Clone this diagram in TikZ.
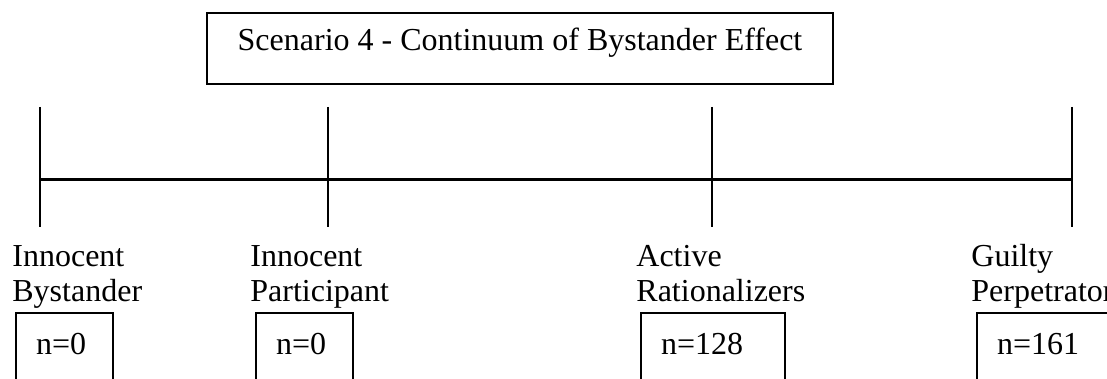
\documentclass[tikz,border=0pt]{standalone}
\usepackage{fontspec}
\setmainfont{Liberation Serif}
\usetikzlibrary{positioning}

\tikzset{
  titlebox/.style={draw, line width=1pt, anchor=north west, minimum width=313pt,
    minimum height=35.5pt, inner sep=0pt, text height=10pt, text depth=7.5pt},
  catlabel/.style={anchor=base west, align=left, inner sep=0pt},
  countbox/.style={draw, line width=1pt, anchor=north west, inner xsep=10pt,
    inner ysep=0pt, text height=20.5pt, text depth=40pt, align=left},
  scaleline/.style={line width=1pt},
  axisline/.style={line width=1.5pt}
}

\begin{document}
\begin{tikzpicture}[x=0.5pt, y=-0.5pt, font=\fontsize{16}{17.5}\selectfont]
    \useasboundingbox (0,0) rectangle (1107,379);
    \clip (0,0) rectangle (1107,379);

    % title
    \node[titlebox] (title) at (206,12) {Scenario 4 - Continuum of Bystander Effect};

    % scale marks
    \coordinate (m1top) at (40,107);   \coordinate (m1bot) at (40,227);
    \coordinate (m2top) at (328,107);  \coordinate (m2bot) at (328,227);
    \coordinate (m3top) at (712,107);  \coordinate (m3bot) at (712,227);
    \coordinate (m4top) at (1072,107); \coordinate (m4bot) at (1072,227);
    \draw[scaleline] (m1top) -- (m1bot);
    \draw[scaleline] (m2top) -- (m2bot);
    \draw[scaleline] (m3top) -- (m3bot);
    \draw[scaleline] (m4top) -- (m4bot);

    % continuum
    \coordinate (left) at (40,180);
    \coordinate (right) at (1072,180);
    \draw[axisline] (left) -- (right);

    % categories (base = last line)
    \node[catlabel] (innbys) at (12,301) {Innocent\\Bystander};
    \node[catlabel] (innpart) at (250,301) {Innocent\\Participant};
    \node[catlabel] (actrat) at (636,301) {Active\\Rationalizers};
    \node[catlabel] (guilty) at (971,301) {Guilty\\Perpetrator};

    % counts
    \node[countbox, text width=28.5pt] (n1) at (15,312) {n=0};
    \node[countbox, text width=28.5pt] (n2) at (255,312) {n=0};
    \node[countbox, text width=52pt] (n3) at (640,312) {n=128};
    \node[countbox, text width=60pt] (n4) at (976,312) {n=161};

\end{tikzpicture}
\end{document}
